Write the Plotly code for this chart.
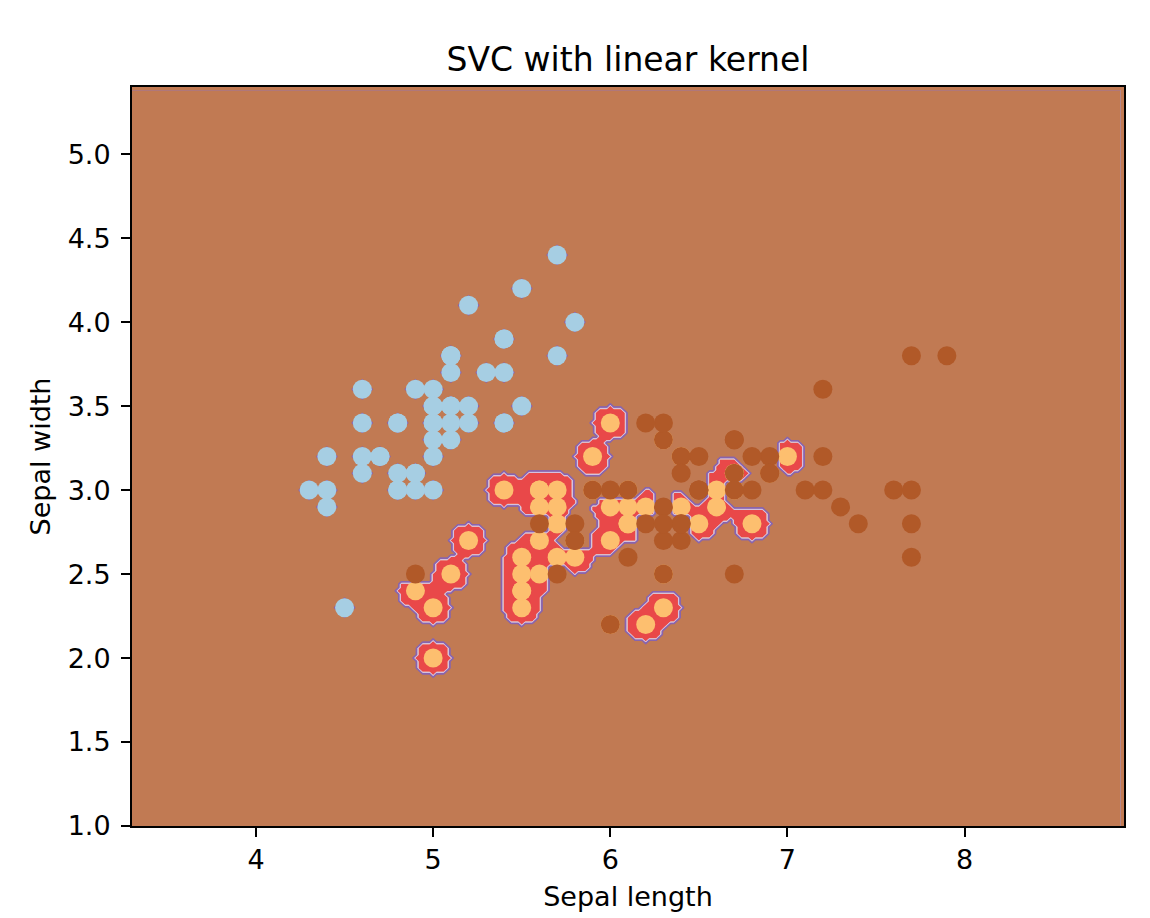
import numpy as np
import plotly.graph_objects as go

# ---------------- data (Iris: sepal length / sepal width) ----------------
class_names = ["setosa", "versicolor", "virginica"]
class_colors = ["#a6cee3", "#fdbf6f", "#b15928"]

setosa_length = [5.1, 4.9, 4.7, 4.6, 5.0, 5.4, 4.6, 5.0, 4.4, 4.9, 5.4, 4.8, 4.8, 4.3, 5.8, 5.7, 5.4,
                 5.1, 5.7, 5.1, 5.4, 5.1, 4.6, 5.1, 4.8, 5.0, 5.0, 5.2, 5.2, 4.7, 4.8, 5.4, 5.2, 5.5,
                 4.9, 5.0, 5.5, 4.9, 4.4, 5.1, 5.0, 4.5, 4.4, 5.0, 5.1, 4.8, 5.1, 4.6, 5.3, 5.0]
setosa_width = [3.5, 3.0, 3.2, 3.1, 3.6, 3.9, 3.4, 3.4, 2.9, 3.1, 3.7, 3.4, 3.0, 3.0, 4.0, 4.4, 3.9,
                3.5, 3.8, 3.8, 3.4, 3.7, 3.6, 3.3, 3.4, 3.0, 3.4, 3.5, 3.4, 3.2, 3.1, 3.4, 4.1, 4.2,
                3.1, 3.2, 3.5, 3.6, 3.0, 3.4, 3.5, 2.3, 3.2, 3.5, 3.8, 3.0, 3.8, 3.2, 3.7, 3.3]
versicolor_length = [7.0, 6.4, 6.9, 5.5, 6.5, 5.7, 6.3, 4.9, 6.6, 5.2, 5.0, 5.9, 6.0, 6.1, 5.6, 6.7, 5.6,
                     5.8, 6.2, 5.6, 5.9, 6.1, 6.3, 6.1, 6.4, 6.6, 6.8, 6.7, 6.0, 5.7, 5.5, 5.5, 5.8, 6.0,
                     5.4, 6.0, 6.7, 6.3, 5.6, 5.5, 5.5, 6.1, 5.8, 5.0, 5.6, 5.7, 5.7, 6.2, 5.1, 5.7]
versicolor_width = [3.2, 3.2, 3.1, 2.3, 2.8, 2.8, 3.3, 2.4, 2.9, 2.7, 2.0, 3.0, 2.2, 2.9, 2.9, 3.1, 3.0,
                    2.7, 2.2, 2.5, 3.2, 2.8, 2.5, 2.8, 2.9, 3.0, 2.8, 3.0, 2.9, 2.6, 2.4, 2.4, 2.7, 2.7,
                    3.0, 3.4, 3.1, 2.3, 3.0, 2.5, 2.6, 3.0, 2.6, 2.3, 2.7, 3.0, 2.9, 2.9, 2.5, 2.8]
virginica_length = [6.3, 5.8, 7.1, 6.3, 6.5, 7.6, 4.9, 7.3, 6.7, 7.2, 6.5, 6.4, 6.8, 5.7, 5.8, 6.4, 6.5,
                    7.7, 7.7, 6.0, 6.9, 5.6, 7.7, 6.3, 6.7, 7.2, 6.2, 6.1, 6.4, 7.2, 7.4, 7.9, 6.4, 6.3,
                    6.1, 7.7, 6.3, 6.4, 6.0, 6.9, 6.7, 6.9, 5.8, 6.8, 6.7, 6.7, 6.3, 6.5, 6.2, 5.9]
virginica_width = [3.3, 2.7, 3.0, 2.9, 3.0, 3.0, 2.5, 2.9, 2.5, 3.6, 3.2, 2.7, 3.0, 2.5, 2.8, 3.2, 3.0,
                   3.8, 2.6, 2.2, 3.2, 2.8, 2.8, 2.7, 3.3, 3.2, 2.8, 3.0, 2.8, 3.0, 2.8, 3.8, 2.8, 2.8,
                   2.6, 3.0, 3.4, 3.1, 3.0, 3.1, 3.1, 3.1, 2.7, 3.2, 3.3, 3.0, 2.5, 3.0, 3.4, 3.0]

x_tick_values = [4, 5, 6, 7, 8]
x_tick_labels = ["4", "5", "6", "7", "8"]
y_tick_values = [1.0, 1.5, 2.0, 2.5, 3.0, 3.5, 4.0, 4.5, 5.0]
y_tick_labels = ["1.0", "1.5", "2.0", "2.5", "3.0", "3.5", "4.0", "4.5", "5.0"]

title_text = "SVC with linear kernel"
x_label = "Sepal length"
y_label = "Sepal width"

# ---------------- assemble ----------------
lengths = [setosa_length, versicolor_length, virginica_length]
widths = [setosa_width, versicolor_width, virginica_width]
X = np.concatenate([np.array(v, float) for v in lengths])
Y = np.concatenate([np.array(v, float) for v in widths])
labels = np.concatenate([np.full(len(v), i) for i, v in enumerate(lengths)])

# ---------------- decision map on a mesh (step 0.02) ----------------
h = 0.02
x_min, x_max = X.min() - 1, X.max() + 1
y_min, y_max = Y.min() - 1, Y.max() + 1
gx = np.arange(x_min, x_max, h)
gy = np.arange(y_min, y_max, h)
GX, GY = np.meshgrid(gx, gy)

# majority label of each distinct location (ties -> later class)
counts = {}
for xv, yv, lv in zip(X, Y, labels):
    key = (round(xv, 1), round(yv, 1))
    counts.setdefault(key, [0, 0, 0])[lv] += 1
keys = list(counts)
lx = np.array([k[0] for k in keys])
ly = np.array([k[1] for k in keys])
ll = np.array([max(i for i in range(3) if counts[k][i] == max(counts[k])) for k in keys])

d2 = (GX[..., None] - lx) ** 2 + (GY[..., None] - ly) ** 2
near = ll[np.argmin(d2, axis=-1)]
dmin = np.sqrt(np.min(d2, axis=-1))

# kernel support of class 1 (merges neighbouring points into blobs)
sigma = 0.05
r1 = 0.1
m1 = labels == 1
k2 = (GX[..., None] - X[m1]) ** 2 + (GY[..., None] - Y[m1]) ** 2
s1 = np.exp(-k2 / (2 * sigma ** 2)).sum(axis=-1)
t1 = np.exp(-r1 ** 2 / (2 * sigma ** 2))

Z = np.full(GX.shape, 2.0)
Z[(near == 1) & (s1 >= t1 * (1 - 1e-6))] = 1.0
Z[(near == 0) & (dmin <= 0.04 + 1e-9)] = 0.0


def blend(hexc, a=0.8):
    hexc = hexc.lstrip("#")
    r, g, b = (int(hexc[i:i + 2], 16) for i in (0, 2, 4))
    return "rgb(%d,%d,%d)" % tuple(round(a * c + (1 - a) * 255) for c in (r, g, b))


band_colors = ["#a6cee3", "#1f78b4", "#b2df8a", "#33a02c", "#fb9a99", "#e31a1c",
               "#fdbf6f", "#cab2d6", "#6a3d9a", "#6a3d9a", "#b15928"]
colorscale = [[i / 10, blend(c)] for i, c in enumerate(band_colors)]

fig = go.Figure()
fig.add_trace(go.Contour(
    x=gx, y=gy, z=Z,
    colorscale=colorscale,
    contours=dict(start=0.1, end=1.9, size=0.2, coloring="fill"),
    line=dict(width=0, smoothing=0),
    showscale=False,
    hoverinfo="skip",
))
# thin edge lines of the filled bands (lilac then purple)
for lev, col, wid in [(1.3, blend("#cab2d6"), 1.3), (1.7, blend("#6a3d9a"), 1.5)]:
    fig.add_trace(go.Contour(
        x=gx, y=gy, z=Z,
        contours=dict(start=lev, end=lev, size=1, coloring="none"),
        line=dict(width=wid, color=col, smoothing=0),
        showscale=False,
        hoverinfo="skip",
    ))

point_colors = [class_colors[l] for l in labels]
fig.add_trace(go.Scatter(
    x=X, y=Y, mode="markers",
    marker=dict(size=19, color=point_colors, line=dict(width=0)),
    text=[class_names[l] for l in labels],
    showlegend=False,
))

font_family = "DejaVu Sans"
axis_common = dict(
    showgrid=False, zeroline=False,
    showline=True, linecolor="black", linewidth=2, mirror=True,
    ticks="outside", ticklen=9, tickwidth=2, tickcolor="black",
    tickfont=dict(family=font_family, size=27, color="black"),
)

fig.update_layout(
    width=1150, height=918,
    margin=dict(l=124, r=34, t=79, b=100, autoexpand=False),
    paper_bgcolor="white",
    plot_bgcolor=blend("#b15928"),
    title=dict(text=title_text, x=0.5, xref="paper", xanchor="center",
               y=1 - 51.5 / 918, yref="container", yanchor="middle",
               font=dict(family=font_family, size=33, color="black")),
    xaxis=dict(range=[x_min, x_max], tickvals=x_tick_values, ticktext=x_tick_labels,
               title=dict(text=x_label, font=dict(family=font_family, size=27, color="black"), standoff=13),
               automargin=False, **axis_common),
    yaxis=dict(range=[y_min, y_max], tickvals=y_tick_values, ticktext=y_tick_labels,
               ticklabelstandoff=5,
               title=dict(text=y_label, font=dict(family=font_family, size=27, color="black"), standoff=9),
               automargin=False, **axis_common),
    showlegend=False,
)

fig.write_html("out.html")
